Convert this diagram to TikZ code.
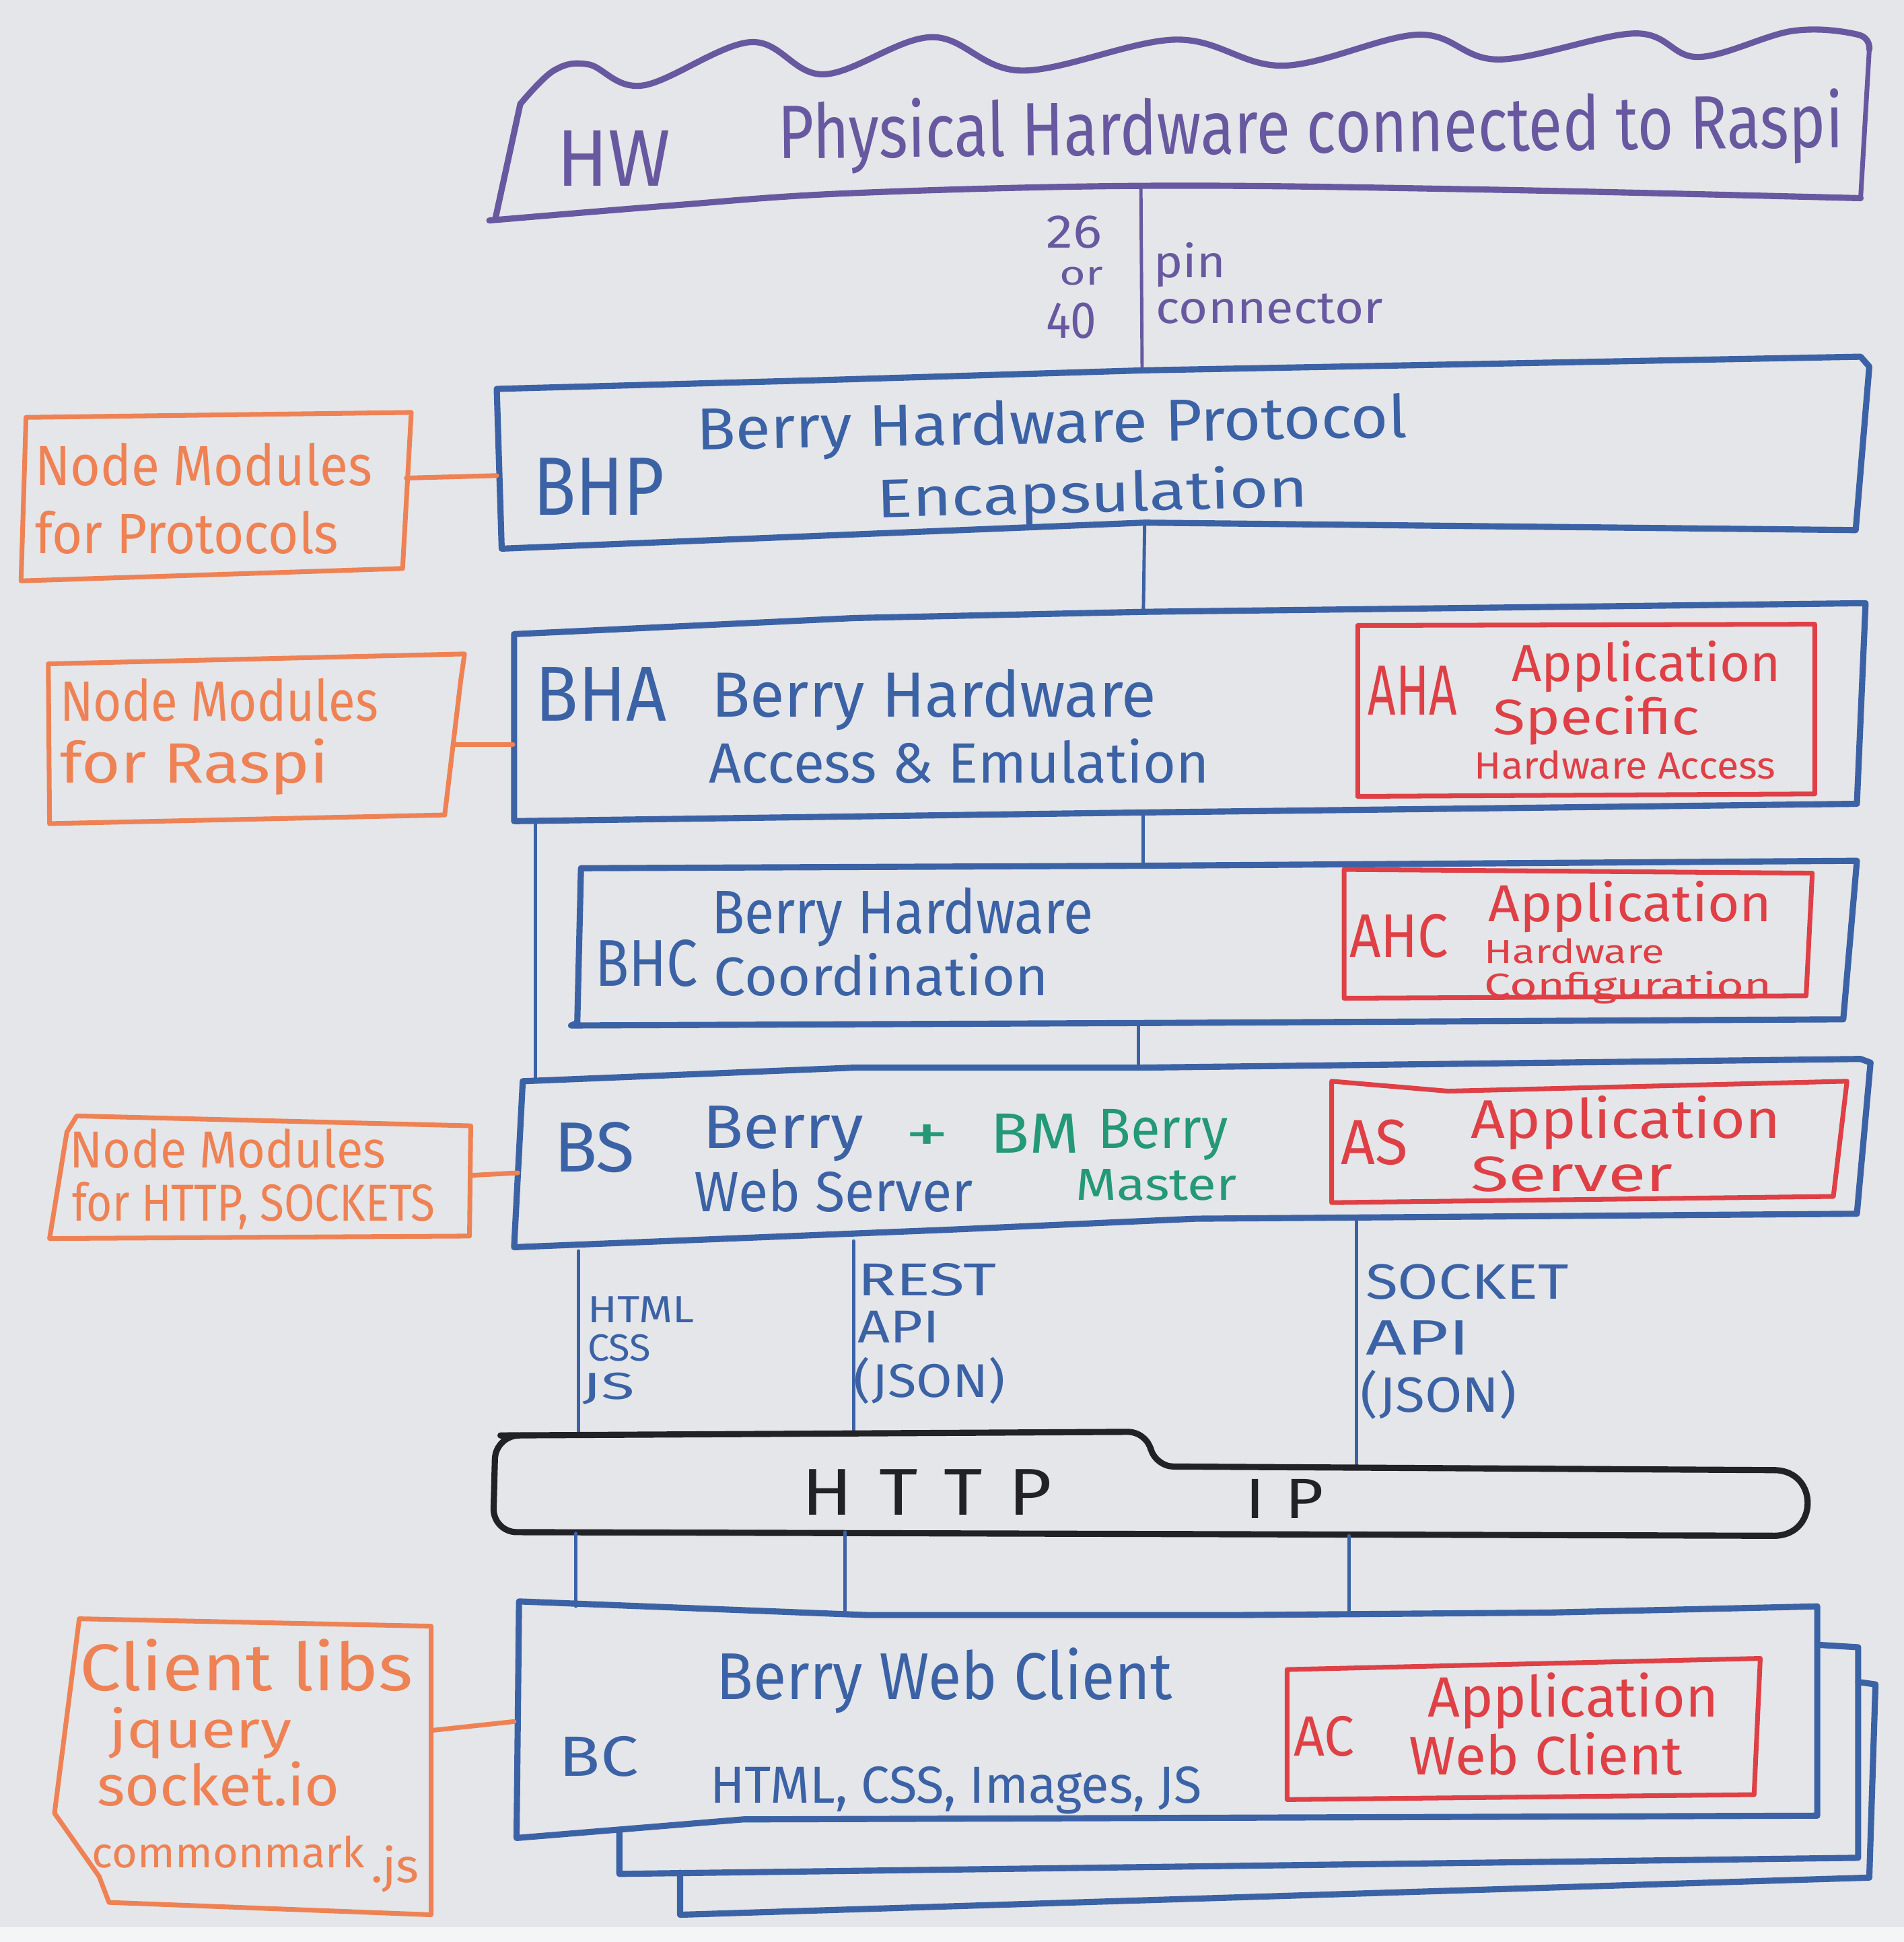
\documentclass[tikz,border=0pt]{standalone}
\usepackage{fontspec}
\setmainfont{Fira Sans}
\definecolor{bg}{RGB}{228,230,233}
\definecolor{pur}{RGB}{104,88,160}
\definecolor{blu}{RGB}{60,98,166}
\definecolor{org}{RGB}{238,130,84}
\definecolor{rd}{RGB}{222,64,70}
\definecolor{grn}{RGB}{36,152,120}
\definecolor{blk}{RGB}{34,34,38}
\newlength\fitlen
\newcommand\fitw[2]{\settowidth\fitlen{#2}\pgfmathsetmacro\fitr{#1*0.52369/\fitlen}\scalebox{\fitr}[1]{#2}}
\newcommand\fs[1]{\fontsize{#1}{#1}\selectfont}
\tikzset{
  txt/.style={inner sep=0pt, anchor=base west},
  boxline/.style={line width=2.6pt, line join=round, line cap=round},
  thinbox/.style={line width=2.0pt, line join=round, line cap=round},
  conn/.style={line width=1.4pt, line cap=round},
}
\begin{document}
\begin{tikzpicture}[x=0.52369pt,y=-0.52369pt]
\fill[bg] (0,0) rectangle (1537,1568);
\fill[bg!40!white] (0,1556) rectangle (1537,1568);
\useasboundingbox (0,0) rectangle (1537,1568);

% ---------------- HW ----------------
\draw[boxline,pur] plot[smooth,tension=0.6] coordinates {(420,84)(447,57)(475,52)(519,69)(606,34)(665,60)(752,30)(825,57)(949,32)(1036,53)(1145,28)(1210,48)(1320,27)(1371,46)(1447,25)(1500,28)(1509,40)};
\draw[boxline,pur] (400,176) -- (420,84);
\draw[thinbox,pur] (1509,40) -- (1502,160);
\draw[boxline,pur] plot[smooth,tension=0.6] coordinates {(395,178)(541,166)(686,156)(927,150)(1196,153)(1502,160)};
\node[txt,text=pur,font=\fs{34}] (hw) at (449,150) {\fitw{92}{HW}};
\node[txt,text=pur,font=\fs{32},rotate=0.6] (hwdesc) at (628,128) {\fitw{860}{Physical Hardware connected to Raspi}};
\coordinate (hwB) at (921,151);
\coordinate (bhpT) at (922,298);
\draw[conn,pur] (hwB) -- (bhpT);
\node[txt,text=pur,font=\fs{20}] (n26) at (844,200) {\fitw{45}{26}};
\node[txt,text=pur,font=\fs{14}] (nor) at (855,230) {\fitw{35}{or}};
\node[txt,text=pur,font=\fs{22}] (n40) at (844,273) {\fitw{41}{40}};
\node[txt,text=pur,font=\fs{19}] (pin) at (931,224) {\fitw{58}{pin}};
\node[txt,text=pur,font=\fs{19}] (conn) at (933,261) {\fitw{183}{connector}};

% ---------------- BHP ----------------
\draw[boxline,blu] (401,314) -- (660,307) -- (924,299) -- (1502,288) -- (1509,296) -- (1498,428) -- (924,422) -- (405,443) -- cycle;
\node[txt,text=blu,font=\fs{35}] (bhp) at (430,416) {\fitw{106}{BHP}};
\node[txt,text=blu,font=\fs{25},rotate=1.0] (bhp1) at (562,363) {\fitw{574}{Berry Hardware Protocol}};
\node[txt,text=blu,font=\fs{23},rotate=1.5] (bhp2) at (708,418) {\fitw{348}{Encapsulation}};
\draw[thinbox,org] (21,337) -- (332,333) -- (325,459) -- (17,469) -- cycle;
\node[txt,text=org,font=\fs{24}] (o1a) at (28,392) {\fitw{272}{Node Modules}};
\node[txt,text=org,font=\fs{24}] (o1b) at (28,447) {\fitw{245}{for Protocols}};
\coordinate (o1R) at (328,386);
\coordinate (bhpL) at (401,384);
\draw[thinbox,org] (o1R) -- (bhpL);
\coordinate (bhpB) at (924,425);
\coordinate (bhaT) at (923,493);
\draw[conn,blu] (bhpB) -- (bhaT);

% ---------------- BHA ----------------
\draw[boxline,blu] (415,512) -- (690,499) -- (923,494) -- (1506,487) -- (1499,649) -- (922,656) -- (415,663) -- cycle;
\draw[thinbox,rd] (1096,505) -- (1465,504) -- (1465,641) -- (1096,643) -- cycle;
\node[txt,text=blu,font=\fs{33}] (bha) at (432,582) {\fitw{106}{BHA}};
\node[txt,text=blu,font=\fs{27}] (bha1) at (574,579) {\fitw{359}{Berry Hardware}};
\node[txt,text=blu,font=\fs{24}] (bha2) at (572,632) {\fitw{404}{Access \& Emulation}};
\node[txt,text=rd,font=\fs{30}] (aha) at (1104,577) {\fitw{72}{AHA}};
\node[txt,text=rd,font=\fs{22}] (aha1) at (1220,550) {\fitw{217}{Application}};
\node[txt,text=rd,font=\fs{21}] (aha2) at (1205,593) {\fitw{167}{Specific}};
\node[txt,text=rd,font=\fs{16}] (aha3) at (1190,629) {\fitw{243}{Hardware Access}};
\draw[thinbox,org] (39,536) -- (375,528) -- (372,549) -- (359,658) -- (40,665) -- cycle;
\node[txt,text=org,font=\fs{24}] (o2a) at (48,582) {\fitw{257}{Node Modules}};
\node[txt,text=org,font=\fs{24}] (o2b) at (48,632) {\fitw{217}{for Raspi}};
\coordinate (o2R) at (367,601);
\coordinate (bhaL) at (414,601);
\draw[thinbox,org] (o2R) -- (bhaL);
\coordinate (frameT) at (432,663);
\coordinate (frameB) at (432,870);
\draw[conn,blu] (frameT) -- (frameB);
\coordinate (bhaB) at (923,656);
\coordinate (bhcT) at (923,700);
\draw[conn,blu] (bhaB) -- (bhcT);

% ---------------- BHC ----------------
\draw[boxline,blu] (469,701) -- (923,699) -- (1499,695) -- (1488,823) -- (923,826) -- (461,828) -- (466,826) -- cycle;
\draw[thinbox,rd] (1085,702) -- (1463,705) -- (1458,804) -- (1085,806) -- cycle;
\node[txt,text=blu,font=\fs{28}] (bhc) at (480,796) {\fitw{83}{BHC}};
\node[txt,text=blu,font=\fs{26}] (bhc1) at (574,754) {\fitw{308}{Berry Hardware}};
\node[txt,text=blu,font=\fs{23}] (bhc2) at (576,804) {\fitw{270}{Coordination}};
\node[txt,text=rd,font=\fs{26}] (ahc) at (1089,773) {\fitw{80}{AHC}};
\node[txt,text=rd,font=\fs{22}] (ahc1) at (1201,744) {\fitw{229}{Application}};
\node[txt,text=rd,font=\fs{14}] (ahc2) at (1198,778) {\fitw{145}{Hardware}};
\node[txt,text=rd,font=\fs{14}] (ahc3) at (1198,805) {\fitw{232}{Configuration}};
\coordinate (bhcB) at (919,825);
\coordinate (bsT) at (919,862);
\draw[conn,blu] (bhcB) -- (bsT);

% ---------------- BS ----------------
\draw[boxline,blu] (422,873) -- (690,862) -- (922,862) -- (1502,855) -- (1510,858) -- (1499,980) -- (965,984) -- (763,993) -- (415,1007) -- cycle;
\draw[thinbox,rd] (1075,873) -- (1169,881) -- (1491,873) -- (1480,966) -- (1075,971) -- cycle;
\node[txt,text=blu,font=\fs{30}] (bs) at (447,946) {\fitw{65}{BS}};
\node[txt,text=blu,font=\fs{26}] (bs1) at (567,927) {\fitw{130}{Berry}};
\node[txt,text=grn,font=\fs{22}] (plus) at (730,930) {\fitw{36}{+}};
\node[txt,text=grn,font=\fs{24}] (bm) at (799,931) {\fitw{72}{BM}};
\node[txt,text=grn,font=\fs{24}] (bm1) at (886,927) {\fitw{105}{Berry}};
\node[txt,text=blu,font=\fs{24}] (bs2) at (560,978) {\fitw{225}{Web Server}};
\node[txt,text=grn,font=\fs{19}] (bm2) at (868,969) {\fitw{130}{Master}};
\node[txt,text=rd,font=\fs{27}] (as) at (1082,940) {\fitw{54}{AS}};
\node[txt,text=rd,font=\fs{23}] (as1) at (1187,919) {\fitw{250}{Application}};
\node[txt,text=rd,font=\fs{21}] (as2) at (1187,962) {\fitw{163}{Server}};
\draw[thinbox,org] (62,901) -- (380,909) -- (379,998) -- (40,1000) -- (54,914) -- cycle;
\node[txt,text=org,font=\fs{22}] (o3a) at (56,943) {\fitw{255}{Node Modules}};
\node[txt,text=org,font=\fs{22}] (o3b) at (58,986) {\fitw{293}{for HTTP, SOCKETS}};
\coordinate (o3R) at (380,949);
\coordinate (bsL) at (418,947);
\draw[thinbox,org] (o3R) -- (bsL);

% ---------------- protocols ----------------
\coordinate (l1a) at (467,1010);
\coordinate (l2a) at (689,1002);
\coordinate (l3a) at (1095,983);
\coordinate (l1b) at (467,1159);
\coordinate (l2b) at (689,1156);
\coordinate (l3b) at (1095,1185);
\draw[conn,blu] (l1a) -- (l1b);
\draw[conn,blu] (l2a) -- (l2b);
\draw[conn,blu] (l3a) -- (l3b);
\node[txt,text=blu,font=\fs{16}] (p1a) at (474,1068) {\fitw{86}{HTML}};
\node[txt,text=blu,font=\fs{16}] (p1b) at (474,1099) {\fitw{51}{CSS}};
\node[txt,text=blu,font=\fs{16}] (p1c) at (470,1130) {\fitw{42}{JS}};
\node[txt,text=blu,font=\fs{19.5}] (p2a) at (692,1046) {\fitw{112}{REST}};
\node[txt,text=blu,font=\fs{19.5}] (p2b) at (692,1084) {\fitw{66}{API}};
\node[txt,text=blu,font=\fs{20}] (p2c) at (689,1128) {\fitw{122}{(JSON)}};
\node[txt,text=blu,font=\fs{21}] (p3a) at (1102,1049) {\fitw{164}{SOCKET}};
\node[txt,text=blu,font=\fs{21}] (p3b) at (1102,1094) {\fitw{84}{API}};
\node[txt,text=blu,font=\fs{21}] (p3c) at (1098,1140) {\fitw{126}{(JSON)}};

% ---------------- HTTP / IP ----------------
\draw[boxline,blk,rounded corners=8] (404,1159) -- (926,1156) -- (932,1184) -- (1433,1187);
\draw[boxline,blk] (1433,1187) .. controls (1468,1188) and (1468,1239) .. (1433,1240);
\draw[boxline,blk,rounded corners=10] (1433,1240) -- (398,1237) -- (400,1159) -- (410,1159);
\node[txt,text=blk,font=\fs{28}] (http) at (647,1223) {\fitw{202}{\addfontfeature{LetterSpace=35}HTTP}};
\node[txt,text=blk,font=\fs{24}] (ip) at (1005,1226) {\fitw{63}{\addfontfeature{LetterSpace=30}IP}};
\coordinate (m1a) at (465,1238);
\coordinate (m2a) at (682,1237);
\coordinate (m3a) at (1089,1240);
\coordinate (m1b) at (465,1297);
\coordinate (m2b) at (682,1304);
\coordinate (m3b) at (1089,1303);
\draw[conn,blu] (m1a) -- (m1b);
\draw[conn,blu] (m2a) -- (m2b);
\draw[conn,blu] (m3a) -- (m3b);

% ---------------- BC ----------------
\draw[boxline,blu] (1467,1328) -- (1500,1330) -- (1500,1500) -- (500,1513) -- (500,1478);
\draw[boxline,blu] (1500,1358) -- (1514,1360) -- (1509,1516) -- (549,1546) -- (549,1512);
\draw[boxline,blu] (419,1293) -- (700,1304) -- (1000,1304) -- (1250,1302) -- (1467,1297) -- (1467,1466) -- (600,1469) -- (417,1484) -- cycle;
\draw[thinbox,rd] (1039,1348) -- (1421,1339) -- (1416,1449) -- (1039,1453) -- cycle;
\node[txt,text=blu,font=\fs{24}] (bc) at (451,1434) {\fitw{64}{BC}};
\node[txt,text=blu,font=\fs{28}] (bc1) at (578,1372) {\fitw{368}{Berry Web Client}};
\node[txt,text=blu,font=\fs{22}] (bc2) at (573,1456) {\fitw{397}{HTML, CSS, Images, JS}};
\node[txt,text=rd,font=\fs{24}] (ac) at (1044,1418) {\fitw{49}{AC}};
\node[txt,text=rd,font=\fs{24}] (ac1) at (1152,1386) {\fitw{235}{Application}};
\node[txt,text=rd,font=\fs{23}] (ac2) at (1137,1433) {\fitw{221}{Web Client}};
\draw[thinbox,org] (64,1307) -- (348,1313) -- (348,1546) -- (88,1536) -- (80,1515) -- (44,1464) -- cycle;
\node[txt,text=org,font=\fs{28}] (o4a) at (64,1365) {\fitw{269}{Client libs}};
\node[txt,text=org,font=\fs{22}] (o4b) at (88,1411) {\fitw{147}{jquery}};
\node[txt,text=org,font=\fs{24}] (o4c) at (78,1458) {\fitw{196}{socket.io}};
\node[txt,text=org,font=\fs{18}] (o4d) at (74,1508) {\fitw{220}{commonmark}};
\node[txt,text=org,font=\fs{20}] (o4e) at (299,1520) {\fitw{39}{.js}};
\coordinate (o4R) at (350,1397);
\coordinate (bcL) at (415,1390);
\draw[thinbox,org] (o4R) -- (bcL);
\end{tikzpicture}
\end{document}
